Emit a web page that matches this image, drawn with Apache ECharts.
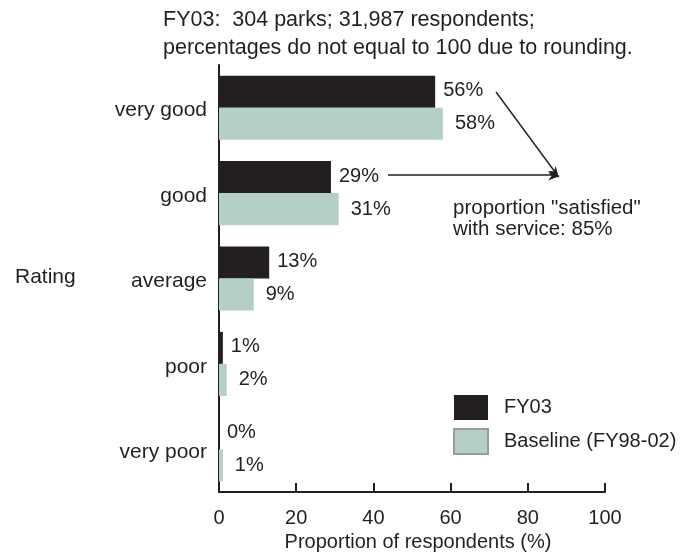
<!DOCTYPE html>
<html>
<head>
<meta charset="utf-8">
<script src="https://cdn.jsdelivr.net/npm/echarts@6/dist/echarts.min.js"></script>
<style>html,body{margin:0;padding:0;background:#fff;}#c{width:700px;height:553px;}</style>
</head>
<body>
<div id="c"></div>
<script>
var categories = ['very good', 'good', 'average', 'poor', 'very poor'];
var fy03 = [56, 29, 13, 1, 0];
var baseline = [58, 31, 9, 2, 1];
var xTicks = [0, 20, 40, 60, 80, 100];
var seriesNames = ['FY03', 'Baseline (FY98-02)'];

var INK = '#231f20';
var TEAL = '#b4cfc8';
var FONT = '"Liberation Sans", Arial, Helvetica, sans-serif';

var chart = echarts.init(document.getElementById('c'), null, {renderer: 'canvas'});

function arrowHead(x1, y1, x2, y2) {
  var ang = Math.atan2(y2 - y1, x2 - x1);
  var L = 12, W = 4.5;
  var bx = x2 - L * Math.cos(ang), by = y2 - L * Math.sin(ang);
  var px = -Math.sin(ang) * W, py = Math.cos(ang) * W;
  var mx = x2 - L * 0.7 * Math.cos(ang), my = y2 - L * 0.7 * Math.sin(ang);
  return {
    type: 'polygon',
    shape: {points: [[x2, y2], [bx + px, by + py], [mx, my], [bx - px, by - py]]},
    style: {fill: INK}
  };
}

var option = {
  animation: false,
  backgroundColor: '#fff',
  textStyle: {fontFamily: FONT, color: INK},
  grid: {left: 219, right: 95, top: 65, bottom: 61, containLabel: false, outerBoundsMode: 'none'},
  xAxis: {
    type: 'value',
    min: 0, max: 100, interval: 20,
    name: 'Proportion of respondents (%)',
    nameLocation: 'middle',
    nameGap: 40,
    nameTextStyle: {fontSize: 20, color: INK, fontFamily: FONT, padding: [0, 0, 0, 12]},
    axisLine: {show: true, lineStyle: {color: INK, width: 2}},
    axisTick: {show: true, inside: true, length: 9, lineStyle: {color: INK, width: 2}},
    axisLabel: {
      fontSize: 20, color: INK, fontFamily: FONT, margin: 16,
      formatter: function (v) { return xTicks.indexOf(v) >= 0 ? String(v) : ''; }
    },
    splitLine: {show: false}
  },
  yAxis: {
    type: 'category',
    data: categories,
    inverse: true,
    axisLine: {show: true, lineStyle: {color: INK, width: 2}},
    axisTick: {show: false},
    axisLabel: {
      color: INK, margin: 12,
      formatter: function (v) { return '{c|' + v + '}'; },
      rich: {c: {fontSize: 21, color: INK, fontFamily: FONT, padding: [6, 0, 0, 0]}}
    }
  },
  legend: {
    orient: 'vertical',
    left: 453, top: 395, padding: 0,
    itemWidth: 34, itemHeight: 25, itemGap: 8,
    icon: 'rect',
    textStyle: {fontSize: 20, color: INK, fontFamily: FONT, padding: [2, 0, 0, 11]},
    data: [
      {name: seriesNames[0], itemStyle: {color: INK, borderWidth: 0}},
      {name: seriesNames[1], itemStyle: {color: TEAL, borderColor: '#9a9a9a', borderWidth: 2}}
    ]
  },
  series: [
    {
      name: seriesNames[0], type: 'bar', data: fy03,
      barGap: '0%', barCategoryGap: '25%',
      itemStyle: {color: INK},
      label: {show: true, position: 'right', distance: 8, fontSize: 20, color: INK, fontFamily: FONT, formatter: '{c}%', offset: [0, -1]}
    },
    {
      name: seriesNames[1], type: 'bar', data: baseline,
      barGap: '0%', barCategoryGap: '25%',
      itemStyle: {color: TEAL},
      label: {show: true, position: 'right', distance: 12, fontSize: 20, color: INK, fontFamily: FONT, formatter: '{c}%', offset: [0, 0]}
    }
  ],
  graphic: [
    {type: 'text', left: 163, top: 9, style: {text: 'FY03:  304 parks; 31,987 respondents;', font: '21.5px ' + FONT, fill: INK}},
    {type: 'text', left: 163, top: 37.5, style: {text: 'percentages do not equal to 100 due to rounding.', font: '21.5px ' + FONT, fill: INK}},
    {type: 'text', left: 15, top: 266.5, style: {text: 'Rating', font: '21px ' + FONT, fill: INK}},
    {type: 'text', left: 453, top: 198, style: {text: 'proportion "satisfied"', font: '20.5px ' + FONT, fill: INK}},
    {type: 'text', left: 453, top: 219, style: {text: 'with service: 85%', font: '20.5px ' + FONT, fill: INK}},
    {type: 'line', shape: {x1: 496, y1: 92, x2: 555, y2: 172}, style: {stroke: INK, lineWidth: 1.4}},
    arrowHead(496, 92, 559, 178),
    {type: 'line', shape: {x1: 388, y1: 175, x2: 552, y2: 175}, style: {stroke: INK, lineWidth: 1.4}},
    arrowHead(388, 175, 560, 176)
  ]
};
chart.setOption(option);
</script>
</body>
</html>
